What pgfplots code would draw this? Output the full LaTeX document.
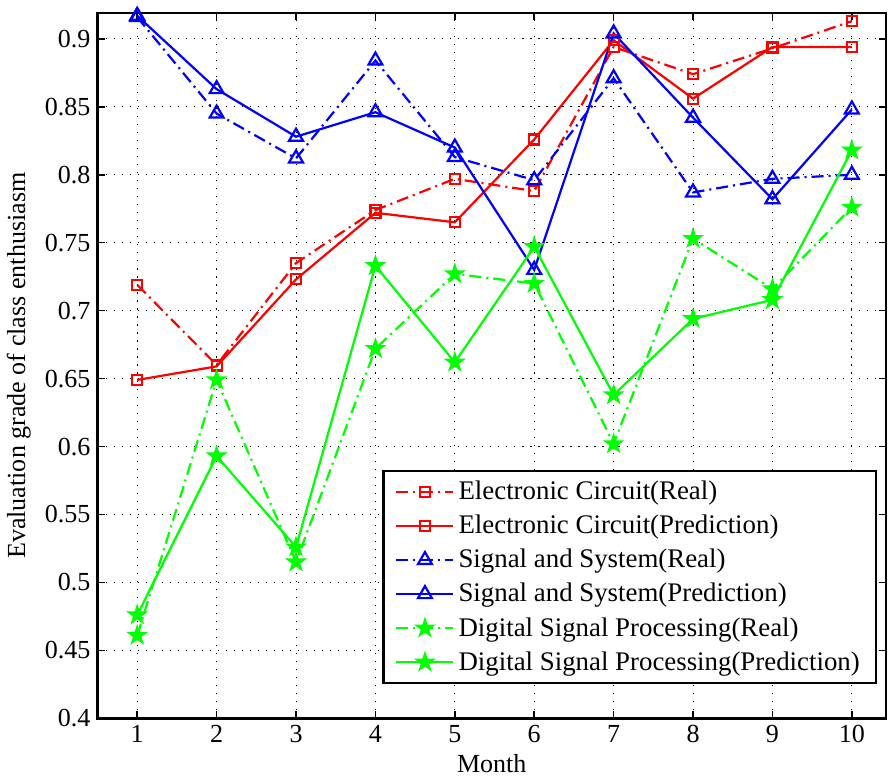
\documentclass[border=0pt]{standalone}
\usepackage{fontspec}
\setmainfont{Liberation Serif}
\usepackage{pgfplots}
\pgfplotsset{compat=1.18}

\newcommand{\fs}{\fontsize{13}{15.6}\selectfont}
\newcommand{\lfs}{\fontsize{13.4}{16}\selectfont}

% filled five-pointed star, like MATLAB's pentagram
\pgfdeclareplotmark{pentagram}{%
  \pgfpathmoveto{\pgfpointpolar{90}{\pgfplotmarksize}}%
  \pgfpathlineto{\pgfpointpolar{126}{0.382\pgfplotmarksize}}%
  \pgfpathlineto{\pgfpointpolar{162}{\pgfplotmarksize}}%
  \pgfpathlineto{\pgfpointpolar{198}{0.382\pgfplotmarksize}}%
  \pgfpathlineto{\pgfpointpolar{234}{\pgfplotmarksize}}%
  \pgfpathlineto{\pgfpointpolar{270}{0.382\pgfplotmarksize}}%
  \pgfpathlineto{\pgfpointpolar{306}{\pgfplotmarksize}}%
  \pgfpathlineto{\pgfpointpolar{342}{0.382\pgfplotmarksize}}%
  \pgfpathlineto{\pgfpointpolar{18}{\pgfplotmarksize}}%
  \pgfpathlineto{\pgfpointpolar{54}{0.382\pgfplotmarksize}}%
  \pgfpathclose\pgfusepathqfillstroke}

\definecolor{mred}{RGB}{255,0,0}
\definecolor{mblue}{RGB}{0,0,255}
\definecolor{mgreen}{RGB}{0,255,0}

\tikzset{
  dashdot/.style={dash pattern=on 6pt off 2.5pt on 1pt off 2.5pt},
}

\begin{document}
\begin{tikzpicture}
\begin{axis}[
  scale only axis,
  width=393.5pt,
  height=352pt,
  xmin=0.5, xmax=10.43,
  ymin=0.4, ymax=0.919,
  xtick={1,2,3,4,5,6,7,8,9,10},
  ytick={0.4,0.45,0.5,0.55,0.6,0.65,0.7,0.75,0.8,0.85,0.9},
  /pgf/number format/fixed,
  /pgf/number format/precision=2,
  /pgf/number format/assume math mode=true,
  tick label style={font=\fs},
  tick align=inside,
  tick style={black, line width=0.8pt},
  major tick length=3.5pt,
  axis line style={line width=1.2pt},
  grid=major,
  grid style={black, line width=0.5pt, dash pattern=on 0.6pt off 3.4pt},
  xlabel={Month},
  ylabel={Evaluation grade of class enthusiasm},
  label style={font=\fs},
  xlabel style={at={(axis description cs:0.5,-0.064)}, anchor=center},
  ylabel style={at={(axis description cs:-0.1,0.5)}, anchor=center},
  legend style={at={(rel axis cs:0.9886,0.0483)}, anchor=south east,
    font=\lfs, draw=black, line width=1.2pt, cells={anchor=west},
    row sep=2.2pt, inner xsep=6pt, inner ysep=3pt},
  legend image code/.code={%
    \draw[mark repeat=2,mark phase=2] plot coordinates {(0cm,0cm) (0.5cm,0cm) (1cm,0cm)};},
  every axis plot/.append style={line width=1.1pt},
]
% Electronic Circuit
\addplot[mred, dashdot, mark=square, mark size=2.5pt, mark options={solid}] coordinates {
  (1,0.719) (2,0.660) (3,0.735) (4,0.774) (5,0.797) (6,0.788) (7,0.894) (8,0.874) (9,0.893) (10,0.913)};
\addplot[mred, solid, mark=square, mark size=2.5pt] coordinates {
  (1,0.649) (2,0.659) (3,0.723) (4,0.772) (5,0.765) (6,0.826) (7,0.899) (8,0.856) (9,0.894) (10,0.894)};
% Signal and System
\addplot[mblue, dashdot, mark=triangle, mark size=4pt, mark options={solid}] coordinates {
  (1,0.916) (2,0.845) (3,0.812) (4,0.884) (5,0.813) (6,0.796) (7,0.871) (8,0.787) (9,0.797) (10,0.800)};
\addplot[mblue, solid, mark=triangle, mark size=4pt] coordinates {
  (1,0.917) (2,0.863) (3,0.828) (4,0.846) (5,0.820) (6,0.730) (7,0.904) (8,0.842) (9,0.782) (10,0.848)};
% Digital Signal Processing
\addplot[mgreen, dashdot, mark=pentagram, mark size=4pt, mark options={solid, fill=mgreen}] coordinates {
  (1,0.461) (2,0.649) (3,0.515) (4,0.672) (5,0.727) (6,0.720) (7,0.602) (8,0.753) (9,0.716) (10,0.776)};
\addplot[mgreen, solid, mark=pentagram, mark size=4pt, mark options={fill=mgreen}] coordinates {
  (1,0.476) (2,0.593) (3,0.526) (4,0.733) (5,0.662) (6,0.747) (7,0.638) (8,0.694) (9,0.708) (10,0.818)};
\legend{Electronic Circuit(Real),Electronic Circuit(Prediction),Signal and System(Real),Signal and System(Prediction),Digital Signal Processing(Real),Digital Signal Processing(Prediction)}
\end{axis}
\path ([yshift=6.5pt,xshift=1pt]current axis.north east);
\end{tikzpicture}
\end{document}
